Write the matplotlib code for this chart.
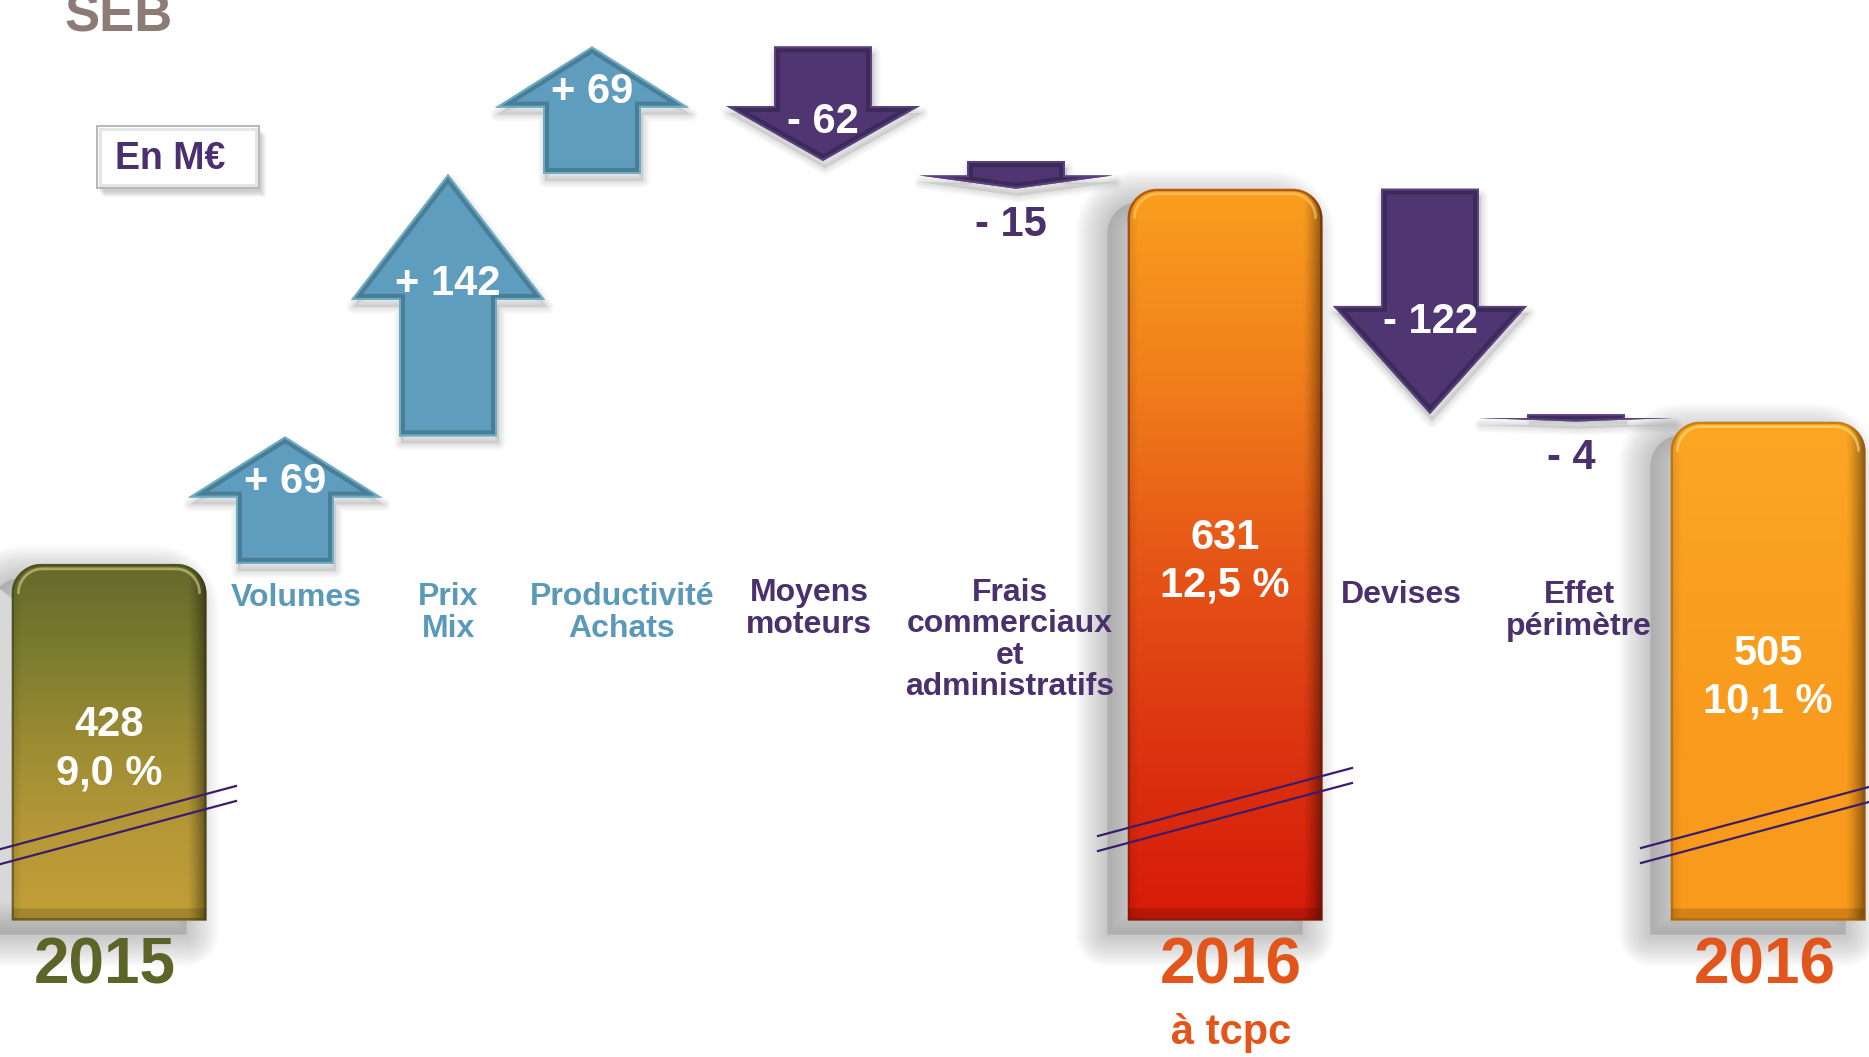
import numpy as np
import matplotlib
matplotlib.use("Agg")
import matplotlib.pyplot as plt
from matplotlib.path import Path
from matplotlib.patches import PathPatch, Rectangle
from matplotlib.colors import LinearSegmentedColormap, to_rgb

plt.rcParams['font.family'] = ['Liberation Sans', 'DejaVu Sans']

# ---------------- DATA ----------------
start_label = "2015"
start_value = 428
start_margin = "9,0 %"

step_labels_1 = ["Volumes", "Prix\nMix", "Productivité\nAchats", "Moyens\nmoteurs",
                 "Frais\ncommerciaux\net\nadministratifs"]
step_values_1 = [69, 142, 69, -62, -15]

mid_label = "2016"
mid_sublabel = "à tcpc"
mid_value = 631
mid_margin = "12,5 %"

step_labels_2 = ["Devises", "Effet\npérimètre"]
step_values_2 = [-122, -4]

end_label = "2016"
end_value = 505
end_margin = "10,1 %"

unit_label = "En M€"
logo_text = "SEB"

# ---------------- LAYOUT ----------------
W, H = 1869, 1057
PY0, V0, S = 300.7, 570.4, 1.848      # value -> pixel mapping (broken axis)
BASE = 235                            # visible baseline of the broken axis
UNIT = 1.0 / S                        # data units per pixel

bar_x = [109, 1225, 1768]
bar_w = 195
step_x_1 = [285, 448, 592, 823, 1016]
step_x_2 = [1430, 1576]
cat_pos_1 = [(296, 598), (448, 613), (622, 613), (809, 609), (1010, 640)]
cat_pos_2 = [(1401, 595), (1579, 611)]
break_y = [820, 802, 814]
year_y = 966

SH, HH = 49, 97          # shaft / head half width (px)
BLUE = "#5e9dbd"
BLUE_TXT = "#5b99ba"
PURPLE = "#4f3672"
PURPLE_TXT = "#4a306c"
OLIVE_TXT = "#5d6428"
ORANGE_TXT = "#e2561c"

bar_grads = [
    ["#656a2b", "#7c7c2f", "#9c8c33", "#b69838", "#c39f37"],
    ["#fa9f1f", "#f1801a", "#e65717", "#dc3510", "#d71a09"],
    ["#fca624", "#fa9f1f", "#f99b1d", "#f89a1c"],
]
bar_edge_dark = ["#3c3d14", "#6e1a05", "#9a5a08"]
bar_highlight = ["#d4d28a", "#ffd070", "#ffe080"]

fig = plt.figure(figsize=(W / 100, H / 100), dpi=100)
fig.patch.set_facecolor("white")
ax = fig.add_axes([0, 0, 1, 1])
ax.axis('off')


def top_round_path(x0, x1, y0, y1, rx, ry):
    verts = [(x0, y0), (x0, y1 - ry)]
    for t in np.linspace(np.pi, np.pi / 2, 16)[1:]:
        verts.append((x0 + rx + rx * np.cos(t), y1 - ry + ry * np.sin(t)))
    verts.append((x1 - rx, y1))
    for t in np.linspace(np.pi / 2, 0, 16)[1:]:
        verts.append((x1 - rx + rx * np.cos(t), y1 - ry + ry * np.sin(t)))
    verts.append((x1, y0))
    verts.append((x0, y0))
    codes = [Path.MOVETO] + [Path.LINETO] * (len(verts) - 2) + [Path.CLOSEPOLY]
    return Path(verts, codes)


def soft_shadow(path, dx, dy, blur, alpha, z, n=16, fill=True):
    v = path.vertices.copy()
    v[:, 0] += dx
    v[:, 1] -= dy * UNIT
    p = Path(v, path.codes)
    if fill:
        ax.add_patch(PathPatch(p, facecolor=(0.4, 0.4, 0.4, alpha * 0.8), edgecolor='none', zorder=z))
    for i in range(n):
        lw = blur * 2 * (i + 1) / n * 0.72
        ax.add_patch(PathPatch(p, facecolor='none', edgecolor=(0.4, 0.4, 0.4, alpha / n * 1.1),
                               lw=lw, joinstyle='round', zorder=z))


def gradient_bar(cx, value, colors, dark, light, z=3):
    x0, x1 = cx - bar_w / 2, cx + bar_w / 2
    y0, y1 = BASE, value
    rx, ry = 30, 30 * UNIT
    path = top_round_path(x0, x1, y0, y1, rx, ry)
    soft_shadow(path, -20, 14, 32, 0.32, 1)
    clip = PathPatch(path, facecolor='none', edgecolor='none', zorder=z)
    ax.add_patch(clip)
    hpx = (y1 - y0) * S
    ny, nx = 400, 120
    cmap = LinearSegmentedColormap.from_list("g", colors)
    t = np.linspace(0, 1, ny)[:, None]
    rgb = cmap(np.repeat(t, nx, axis=1))[..., :3]
    xx = np.linspace(0, 1, nx)[None, :]
    shade = 1 - 0.45 * np.clip((xx - 0.9) / 0.1, 0, 1) ** 1.3
    shade = shade * (1 - 0.10 * np.clip((0.05 - xx) / 0.05, 0, 1))
    rgb = rgb * shade[..., None]
    rows = np.linspace(0, hpx, ny)
    bev = (rows > hpx - 12)
    rgb[bev, :, :] *= 0.85
    im = ax.imshow(rgb, extent=[x0, x1, y0, y1], origin='upper', aspect='auto',
                   interpolation='bilinear', zorder=z)
    im.set_clip_path(clip)
    edge = PathPatch(path, facecolor='none', edgecolor=dark, lw=5 * 0.72, alpha=0.5, zorder=z + 0.1)
    ax.add_patch(edge)
    edge.set_clip_path(clip)
    # top highlight
    hp = top_round_path(x0 + 7, x1 - 7, y1 - 60 * UNIT, y1 - 5 * UNIT, 24, 24 * UNIT)
    hv = hp.vertices[1:-2]
    ax.plot(hv[:, 0], hv[:, 1], color=light, lw=2, alpha=0.6, zorder=z + 0.2, solid_capstyle='round')


def arrow(cx, v0, v1, color, z=4):
    L = v1 - v0
    vb = v1 - 0.48 * L
    pts = [(cx - SH, v0), (cx + SH, v0), (cx + SH, vb), (cx + HH, vb), (cx, v1),
           (cx - HH, vb), (cx - SH, vb), (cx - SH, v0)]
    codes = [Path.MOVETO] + [Path.LINETO] * 6 + [Path.CLOSEPOLY]
    path = Path(pts, codes)
    soft_shadow(path, 2, 7, 7, 0.18, 2, n=10)
    body = PathPatch(path, facecolor=color, edgecolor='none', zorder=z)
    ax.add_patch(body)
    dark = tuple(c * 0.6 for c in to_rgb(color))
    light = tuple(min(1, c * 1.35 + 0.08) for c in to_rgb(color))
    e1 = PathPatch(path, facecolor='none', edgecolor=dark, lw=12 * 0.72, alpha=0.5,
                   joinstyle='miter', zorder=z + 0.1)
    ax.add_patch(e1)
    e1.set_clip_path(body)
    e2 = PathPatch(path, facecolor='none', edgecolor=light, lw=4 * 0.72, alpha=0.45,
                   joinstyle='miter', zorder=z + 0.2)
    ax.add_patch(e2)
    e2.set_clip_path(body)
    return vb


def draw_steps(level, xs, values):
    for cx, v in zip(xs, values):
        color = BLUE if v > 0 else PURPLE
        vb = arrow(cx, level, level + v, color)
        txt = f"+ {v}" if v > 0 else f"- {abs(v)}"
        if abs(v) * S >= 70:
            sgn = 1 if v > 0 else -1
            ax.text(cx, vb + sgn * 16 * UNIT, txt, ha='center', va='center', color='white',
                    fontsize=30, fontweight='bold', zorder=6)
        else:
            tip = level + v
            off = -36 * UNIT if v < 0 else 36 * UNIT
            ax.text(cx - 5, tip + off, txt, ha='center', va='center',
                    color=PURPLE_TXT if v < 0 else BLUE_TXT,
                    fontsize=30, fontweight='bold', zorder=6)
        level += v
    return level


# bars
totals = [start_value, mid_value, end_value]
margins = [start_margin, mid_margin, end_margin]
for i, (cx, val) in enumerate(zip(bar_x, totals)):
    gradient_bar(cx, val, bar_grads[i], bar_edge_dark[i], bar_highlight[i])
    ax.text(cx, (BASE + val) / 2 - 7 * UNIT, f"{val}\n{margins[i]}", ha='center', va='center',
            color='white', fontsize=30, fontweight='bold', linespacing=1.25, zorder=6)

lvl = draw_steps(start_value, step_x_1, step_values_1)
lvl = draw_steps(lvl, step_x_2, step_values_2)

ax.set_xlim(0, W)
ax.set_ylim(V0 - (H - PY0) / S, V0 + PY0 / S)

# ---------------- overlay (pixel coordinates) ----------------
ov = fig.add_axes([0, 0, 1, 1])
ov.set_xlim(0, W)
ov.set_ylim(H, 0)
ov.axis('off')
ov.patch.set_visible(False)

for (x, y), lab, v in zip(cat_pos_1 + cat_pos_2, step_labels_1 + step_labels_2,
                          step_values_1 + step_values_2):
    ov.text(x, y, lab, ha='center', va='center', fontsize=23, fontweight='bold',
            color=BLUE_TXT if v > 0 else PURPLE_TXT, linespacing=1.05)

# axis-break marks
for cx, by in zip(bar_x, break_y):
    for k in range(2):
        y = by + k * 15
        ov.plot([cx - 127, cx + 127], [y + 34, y - 34], color="#3a1c6c", lw=1.6, zorder=7)

# year labels
ov.text(bar_x[0] - 4, year_y, start_label, ha='center', va='center', fontsize=46,
        fontweight='bold', color=OLIVE_TXT)
ov.text(bar_x[1] + 6, year_y, mid_label, ha='center', va='center', fontsize=46,
        fontweight='bold', color=ORANGE_TXT)
ov.text(bar_x[1] + 6, 1033, mid_sublabel, ha='center', va='center', fontsize=30,
        fontweight='bold', color=ORANGE_TXT)
ov.text(bar_x[2] - 3, year_y, end_label, ha='center', va='center', fontsize=46,
        fontweight='bold', color=ORANGE_TXT)

# unit box
for k in range(6):
    ov.add_patch(Rectangle((97 + 2 + k, 126 + 4 + k), 162, 62, facecolor=(0.4, 0.4, 0.4, 0.06),
                           edgecolor='none', zorder=3))
ov.add_patch(Rectangle((97, 126), 162, 62, facecolor='white', edgecolor="#b9b9b9", lw=1.5, zorder=4))
ov.add_patch(Rectangle((100, 129), 156, 56, facecolor='none', edgecolor="#e4e4e4", lw=2, zorder=4))
ov.text(170, 159, unit_label, ha='center', va='center', fontsize=27, fontweight='bold',
        color="#4b2f6f", zorder=5)

# logo (partly cut off at the top edge, as in the reference)
ov.text(64, 31, logo_text, ha='left', va='baseline', fontsize=38, fontweight='bold',
        color="#8c7c75")

fig.savefig("out.png", dpi=100, facecolor="white")
